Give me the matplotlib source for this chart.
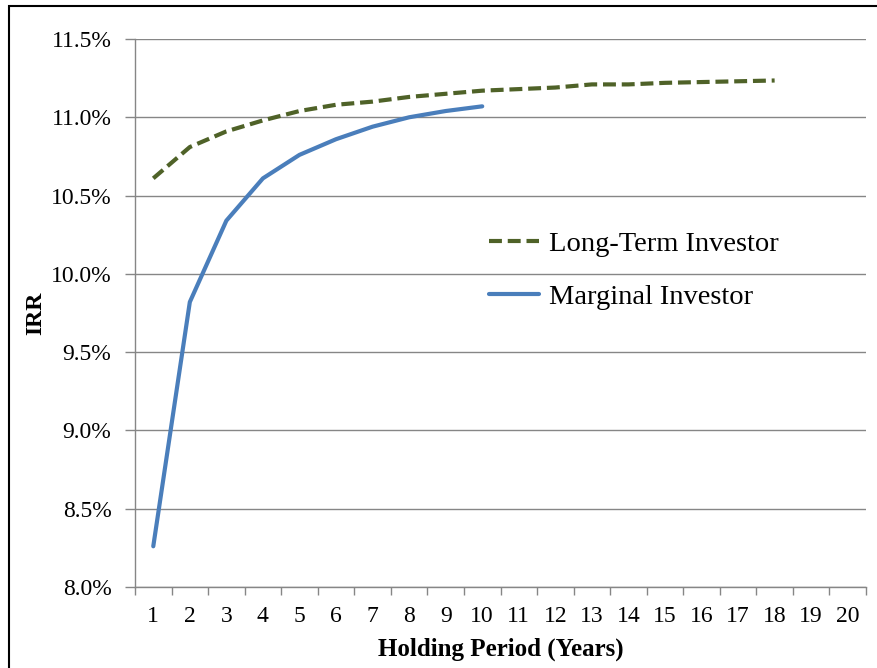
import matplotlib.pyplot as plt
from matplotlib.patches import Rectangle
from matplotlib.ticker import FuncFormatter

# holding period (years) and IRR in percent
years = list(range(1, 21))
long_term_years = list(range(1, 19))
long_term_irr = [10.61, 10.81, 10.91, 10.98, 11.04, 11.08, 11.10, 11.13, 11.15,
                 11.17, 11.18, 11.19, 11.21, 11.21, 11.22, 11.225, 11.23, 11.235]
marginal_years = list(range(1, 11))
marginal_irr = [8.26, 9.82, 10.34, 10.61, 10.76, 10.86, 10.94, 11.00, 11.04, 11.07]

plt.rcParams['font.family'] = ['Liberation Serif', 'DejaVu Serif']

fig = plt.figure(figsize=(8.78, 6.68), dpi=100)
ax = fig.add_axes([135 / 878, 1 - 587 / 668, (866 - 135) / 878, (587 - 39) / 668])

grid_col = '#868686'

# long-term investor: dashed olive line
ax.plot(long_term_years, long_term_irr, color='#4F6228', lw=3,
        dashes=(3.1, 1.4), dash_capstyle='butt', label='Long-Term Investor')
# marginal investor: solid blue line
ax.plot(marginal_years, marginal_irr, color='#4A7EBB', lw=3,
        solid_capstyle='round', label='Marginal Investor')

ax.set_xlim(0.5, 20.5)
ax.set_ylim(8.0, 11.5)
ax.set_yticks([8.0, 8.5, 9.0, 9.5, 10.0, 10.5, 11.0, 11.5])
ax.yaxis.set_major_formatter(FuncFormatter(lambda v, p: '{:.1f}%'.format(v)))
ax.set_xticks(years)
ax.set_xticks([x + 0.5 for x in range(0, 21)], minor=True)
ax.tick_params(axis='x', which='major', length=0, pad=14, labelsize=17)
ax.tick_params(axis='x', which='minor', length=6, color=grid_col, width=1)
ax.tick_params(axis='y', length=7, color=grid_col, width=1, labelsize=17, pad=10)

ax.yaxis.grid(True, color=grid_col, lw=1)
ax.set_axisbelow(True)
for side in ['top', 'right']:
  ax.spines[side].set_visible(False)
for side in ['left', 'bottom']:
  ax.spines[side].set_color(grid_col)
  ax.spines[side].set_linewidth(1)

ax.set_ylabel('IRR', fontsize=17, fontweight='bold', labelpad=3)
ax.set_xlabel('Holding Period (Years)', fontsize=18, fontweight='bold', labelpad=7)

ax.legend(loc='center left', bbox_to_anchor=(0.453, 0.577), frameon=False,
          fontsize=20.5, handlelength=1.75, handletextpad=0.35, labelspacing=0.95,
          borderpad=0.3)

# outer chart frame
fig.patches.append(Rectangle((9 / 878, -0.1), 1.2, 1.1 - 6 / 668,
                             transform=fig.transFigure, fill=False,
                             edgecolor='black', lw=1.5))

fig.savefig('out.png', dpi=100)
